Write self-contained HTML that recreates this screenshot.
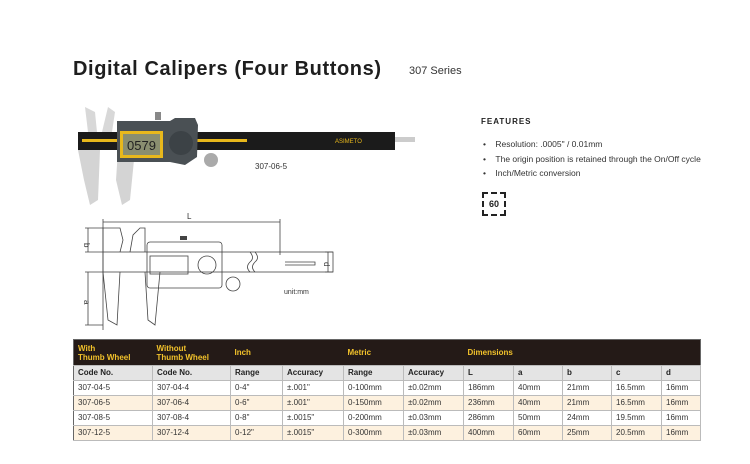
<!DOCTYPE html>
<html><head><style>
body{margin:0;width:750px;height:464px;background:#fff;font-family:"Liberation Sans",sans-serif;position:relative;overflow:hidden;color:#222}
.a{position:absolute;white-space:nowrap}
table{position:absolute;left:73px;top:339px;border-collapse:collapse;font-size:8px;width:628px}
td{border-right:1px solid #bbb;padding:0 0 0 4px;height:14px;line-height:14px;color:#333}
tr.h td{background:#241a17;color:#f2c22b;font-weight:bold;height:25px;border:none;line-height:9px}
tr.c td{background:#e4e4e4;font-weight:bold;color:#222}
tr.o td{background:#fdf1df}
tr{border-bottom:1px solid #bbb}
table{border:1px solid #666}
</style></head><body>
<div class="a" style="left:73px;top:58px;font-size:20px;font-weight:bold;color:#1e1e1e;letter-spacing:0.6px">Digital Calipers (Four Buttons)</div>
<div class="a" style="left:409px;top:65px;font-size:11px;color:#333">307 Series</div>
<div class="a" style="left:481px;top:117px;font-size:8px;font-weight:bold;letter-spacing:1px">FEATURES</div>
<div class="a" style="left:483px;top:137px;font-size:8.5px;line-height:14.5px;color:#333">•&nbsp;&nbsp;&nbsp;&nbsp;Resolution: .0005" / 0.01mm<br>•&nbsp;&nbsp;&nbsp;&nbsp;The origin position is retained through the On/Off cycle<br>•&nbsp;&nbsp;&nbsp;&nbsp;Inch/Metric conversion</div>
<div class="a" style="left:482px;top:192px;width:20px;height:20px;border:2px dashed #222;font-size:9px;font-weight:bold;text-align:center;line-height:20px">60</div>
<div class="a" style="left:255px;top:162px;font-size:8px;color:#333">307-06-5</div>
<div class="a" style="left:284px;top:289px;font-size:7px;color:#333">unit:mm</div>
<svg class="a" style="left:0;top:0" width="750" height="335">
<path d="M85 107 L95 112 L97 132 L88 132 Z M108 107 L115 112 L112 132 L102 132 Z" fill="#d8d8d8"/>
<path d="M78 150 L100 150 L98 200 L90 205 L84 180 Z M118 150 L135 150 L130 200 L122 205 L116 180 Z" fill="#d4d4d4"/>
<rect x="78" y="132" width="317" height="18" fill="#1b1b1b"/>
<rect x="82" y="139" width="165" height="3" fill="#e8b81c"/>
<rect x="395" y="137" width="20" height="5" fill="#ccc"/>
<text x="335" y="143" font-size="6" fill="#e8b81c" font-family="Liberation Sans">ASIMETO</text>
<path d="M117 121 L170 121 L175 118 L195 118 L198 125 L197 157 L185 165 L170 162 L117 162 Z" fill="#4a5054"/>
<rect x="120" y="131" width="43" height="27" fill="#e8b81c"/>
<rect x="123" y="134" width="37" height="21" fill="#8a8e70"/>
<text x="127" y="150" font-size="13" fill="#222" font-family="Liberation Sans">0579</text>
<circle cx="181" cy="143" r="12" fill="#3c4246"/>
<circle cx="211" cy="160" r="7" fill="#aaa"/>
<rect x="155" y="112" width="6" height="8" fill="#888"/>
<g stroke="#444" fill="none" stroke-width="0.8">
<path d="M103 222 H280 M103 219 V330 M280 219 V255"/>
<path d="M88 228 V252 M85 228 H103 M85 252 H103 M88 272 V325 M85 272 H103 M85 325 H103"/>
<path d="M328 252 V272 M325 252 H333 M325 272 H333"/>
<rect x="103" y="252" width="230" height="20"/>
<path d="M103 252 V228 H120 L123 240 L120 252 M130 252 L133 235 L140 228 H145 V252"/>
<path d="M103 272 L108 320 L117 325 L120 272 M145 272 L148 320 L155 325 L160 272"/>
<rect x="147" y="242" width="75" height="46" rx="3"/>
<rect x="150" y="256" width="38" height="18"/>
<circle cx="207" cy="265" r="9"/><circle cx="233" cy="284" r="7"/>
<path d="M250 252 q5 6 0 10 q-5 5 0 10 M255 252 q5 6 0 10 q-5 5 0 10"/>
<path d="M285 262 H315 V265 H285"/>
</g>
<rect x="180" y="236" width="7" height="4" fill="#444"/>
<g font-size="8" fill="#333" font-family="Liberation Sans"><text x="187" y="219">L</text><text x="84" y="243" transform="rotate(90 84 243)">b</text><text x="84" y="300" transform="rotate(90 84 300)">a</text><text x="324" y="262" transform="rotate(90 324 262)">d</text></g>
</svg>
<table>
<tr class="h"><td>With<br>Thumb Wheel</td><td>Without<br>Thumb Wheel</td><td>Inch</td><td></td><td>Metric</td><td></td><td>Dimensions</td><td></td><td></td><td></td><td></td></tr>
<tr class="c"><td style="width:74px">Code No.</td><td style="width:73px">Code No.</td><td style="width:47px">Range</td><td style="width:56px">Accuracy</td><td style="width:55px">Range</td><td style="width:55px">Accuracy</td><td style="width:45px">L</td><td style="width:44px">a</td><td style="width:44px">b</td><td style="width:45px">c</td><td>d</td></tr>
<tr><td>307-04-5</td><td>307-04-4</td><td>0-4"</td><td>±.001"</td><td>0-100mm</td><td>±0.02mm</td><td>186mm</td><td>40mm</td><td>21mm</td><td>16.5mm</td><td>16mm</td></tr>
<tr class="o"><td>307-06-5</td><td>307-06-4</td><td>0-6"</td><td>±.001"</td><td>0-150mm</td><td>±0.02mm</td><td>236mm</td><td>40mm</td><td>21mm</td><td>16.5mm</td><td>16mm</td></tr>
<tr><td>307-08-5</td><td>307-08-4</td><td>0-8"</td><td>±.0015"</td><td>0-200mm</td><td>±0.03mm</td><td>286mm</td><td>50mm</td><td>24mm</td><td>19.5mm</td><td>16mm</td></tr>
<tr class="o"><td>307-12-5</td><td>307-12-4</td><td>0-12"</td><td>±.0015"</td><td>0-300mm</td><td>±0.03mm</td><td>400mm</td><td>60mm</td><td>25mm</td><td>20.5mm</td><td>16mm</td></tr>
</table>
</body></html>
